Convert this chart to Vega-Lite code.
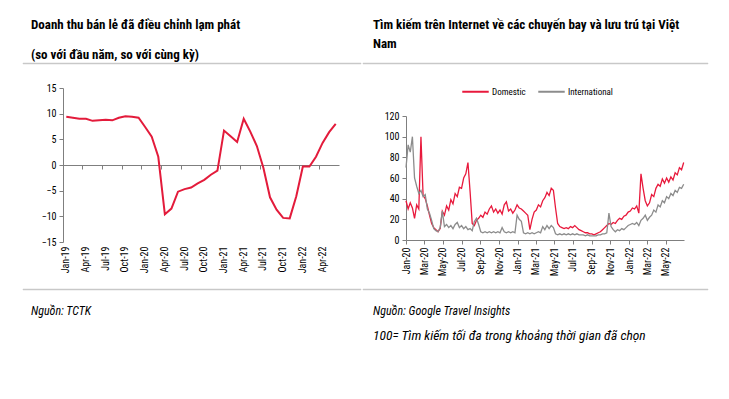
{
"$schema": "https://vega.github.io/schema/vega-lite/v6.json",
"background": "white",
"padding": {"left": 22, "top": 18, "right": 5, "bottom": 5},
"spacing": 12,
"resolve": {"scale": {"color": "independent"}, "legend": {"color": "independent"}},
"config": {
  "font": "Liberation Sans Narrow, Arial Narrow, Roboto Condensed, DejaVu Sans Condensed, Liberation Sans, sans-serif",
  "view": {"stroke": null},
  "axis": {"labelFont": "Liberation Sans Narrow, Arial Narrow, Roboto Condensed, DejaVu Sans Condensed, Liberation Sans, sans-serif", "labelFontSize": 10, "labelColor": "#000", "domain": true, "domainColor": "#7f7f7f", "domainWidth": 1, "tickColor": "#7f7f7f", "grid": false, "title": null, "labelOverlap": false},
  "legend": {"labelFont": "Liberation Sans Narrow, Arial Narrow, Roboto Condensed, DejaVu Sans Condensed, Liberation Sans, sans-serif", "labelColor": "#000"},
  "title": {"font": "Liberation Sans Narrow, Arial Narrow, Roboto Condensed, DejaVu Sans Condensed, Liberation Sans, sans-serif", "fontSize": 13, "fontWeight": "bold", "color": "#000", "anchor": "start"}
},
"datasets": {
  "monthly": [{"m":"Jan-19","v":9.4},{"m":"Feb-19","v":9.2},{"m":"Mar-19","v":9.0},{"m":"Apr-19","v":9.0},{"m":"May-19","v":8.6},{"m":"Jun-19","v":8.7},{"m":"Jul-19","v":8.8},{"m":"Aug-19","v":8.7},{"m":"Sep-19","v":9.2},{"m":"Oct-19","v":9.5},{"m":"Nov-19","v":9.4},{"m":"Dec-19","v":9.2},{"m":"Jan-20","v":7.4},{"m":"Feb-20","v":5.5},{"m":"Mar-20","v":1.6},{"m":"Apr-20","v":-9.6},{"m":"May-20","v":-8.5},{"m":"Jun-20","v":-5.2},{"m":"Jul-20","v":-4.7},{"m":"Aug-20","v":-4.4},{"m":"Sep-20","v":-3.6},{"m":"Oct-20","v":-2.9},{"m":"Nov-20","v":-1.9},{"m":"Dec-20","v":-1.1},{"m":"Jan-21","v":6.7},{"m":"Feb-21","v":5.6},{"m":"Mar-21","v":4.5},{"m":"Apr-21","v":9.0},{"m":"May-21","v":6.5},{"m":"Jun-21","v":3.7},{"m":"Jul-21","v":-0.6},{"m":"Aug-21","v":-6.3},{"m":"Sep-21","v":-8.7},{"m":"Oct-21","v":-10.3},{"m":"Nov-21","v":-10.4},{"m":"Dec-21","v":-6.1},{"m":"Jan-22","v":-0.3},{"m":"Feb-22","v":-0.3},{"m":"Mar-22","v":1.6},{"m":"Apr-22","v":4.3},{"m":"May-22","v":6.4},{"m":"Jun-22","v":8.0}],
  "search": [
{"d":"2020-01-01","Domestic":38,"International":70},
{"d":"2020-01-08","Domestic":30,"International":92},
{"d":"2020-01-15","Domestic":36,"International":85},
{"d":"2020-01-22","Domestic":31,"International":100},
{"d":"2020-01-29","Domestic":21,"International":60},
{"d":"2020-02-05","Domestic":34,"International":52},
{"d":"2020-02-12","Domestic":30,"International":45},
{"d":"2020-02-19","Domestic":100,"International":48},
{"d":"2020-02-26","Domestic":43,"International":42},
{"d":"2020-03-04","Domestic":40,"International":44},
{"d":"2020-03-11","Domestic":33,"International":30},
{"d":"2020-03-18","Domestic":24,"International":26},
{"d":"2020-03-25","Domestic":16,"International":19},
{"d":"2020-04-01","Domestic":12,"International":11},
{"d":"2020-04-08","Domestic":10,"International":9},
{"d":"2020-04-15","Domestic":8,"International":8},
{"d":"2020-04-22","Domestic":11,"International":12},
{"d":"2020-04-29","Domestic":28,"International":28},
{"d":"2020-05-06","Domestic":24,"International":13},
{"d":"2020-05-13","Domestic":33,"International":15},
{"d":"2020-05-20","Domestic":29,"International":12},
{"d":"2020-05-27","Domestic":39,"International":14},
{"d":"2020-06-03","Domestic":35,"International":11},
{"d":"2020-06-10","Domestic":45,"International":15},
{"d":"2020-06-17","Domestic":42,"International":17},
{"d":"2020-06-24","Domestic":51,"International":12},
{"d":"2020-07-01","Domestic":50,"International":14},
{"d":"2020-07-08","Domestic":60,"International":11},
{"d":"2020-07-15","Domestic":64,"International":13},
{"d":"2020-07-22","Domestic":75,"International":10},
{"d":"2020-07-29","Domestic":47,"International":11},
{"d":"2020-08-05","Domestic":16,"International":9},
{"d":"2020-08-12","Domestic":14,"International":18},
{"d":"2020-08-19","Domestic":19,"International":21},
{"d":"2020-08-26","Domestic":21,"International":15},
{"d":"2020-09-02","Domestic":24,"International":8},
{"d":"2020-09-09","Domestic":22,"International":7},
{"d":"2020-09-16","Domestic":27,"International":8},
{"d":"2020-09-23","Domestic":25,"International":7},
{"d":"2020-09-30","Domestic":30,"International":8},
{"d":"2020-10-07","Domestic":33,"International":7},
{"d":"2020-10-14","Domestic":27,"International":8},
{"d":"2020-10-21","Domestic":30,"International":7},
{"d":"2020-10-28","Domestic":26,"International":8},
{"d":"2020-11-04","Domestic":29,"International":7},
{"d":"2020-11-11","Domestic":25,"International":12},
{"d":"2020-11-18","Domestic":34,"International":8},
{"d":"2020-11-25","Domestic":37,"International":7},
{"d":"2020-12-02","Domestic":28,"International":8},
{"d":"2020-12-09","Domestic":30,"International":7},
{"d":"2020-12-16","Domestic":26,"International":8},
{"d":"2020-12-23","Domestic":29,"International":7},
{"d":"2020-12-30","Domestic":34,"International":24},
{"d":"2021-01-06","Domestic":31,"International":20},
{"d":"2021-01-13","Domestic":30,"International":18},
{"d":"2021-01-20","Domestic":28,"International":7},
{"d":"2021-01-27","Domestic":26,"International":6},
{"d":"2021-02-03","Domestic":24,"International":7},
{"d":"2021-02-10","Domestic":10,"International":6},
{"d":"2021-02-17","Domestic":20,"International":7},
{"d":"2021-02-24","Domestic":27,"International":6},
{"d":"2021-03-03","Domestic":29,"International":7},
{"d":"2021-03-10","Domestic":34,"International":8},
{"d":"2021-03-17","Domestic":32,"International":7},
{"d":"2021-03-24","Domestic":38,"International":13},
{"d":"2021-03-31","Domestic":41,"International":10},
{"d":"2021-04-07","Domestic":46,"International":14},
{"d":"2021-04-14","Domestic":43,"International":11},
{"d":"2021-04-21","Domestic":50,"International":14},
{"d":"2021-04-28","Domestic":48,"International":12},
{"d":"2021-05-05","Domestic":31,"International":6},
{"d":"2021-05-12","Domestic":16,"International":5},
{"d":"2021-05-19","Domestic":13,"International":6},
{"d":"2021-05-26","Domestic":12,"International":5},
{"d":"2021-06-02","Domestic":11,"International":6},
{"d":"2021-06-09","Domestic":12,"International":5},
{"d":"2021-06-16","Domestic":11,"International":6},
{"d":"2021-06-23","Domestic":13,"International":5},
{"d":"2021-06-30","Domestic":12,"International":6},
{"d":"2021-07-07","Domestic":14,"International":5},
{"d":"2021-07-14","Domestic":12,"International":6},
{"d":"2021-07-21","Domestic":10,"International":5},
{"d":"2021-07-28","Domestic":9,"International":5},
{"d":"2021-08-04","Domestic":8,"International":5},
{"d":"2021-08-11","Domestic":7,"International":4},
{"d":"2021-08-18","Domestic":7,"International":5},
{"d":"2021-08-25","Domestic":6,"International":4},
{"d":"2021-09-01","Domestic":6,"International":4},
{"d":"2021-09-08","Domestic":5,"International":4},
{"d":"2021-09-15","Domestic":6,"International":4},
{"d":"2021-09-22","Domestic":7,"International":5},
{"d":"2021-09-29","Domestic":8,"International":5},
{"d":"2021-10-06","Domestic":10,"International":6},
{"d":"2021-10-13","Domestic":12,"International":6},
{"d":"2021-10-20","Domestic":14,"International":7},
{"d":"2021-10-27","Domestic":16,"International":26},
{"d":"2021-11-03","Domestic":15,"International":13},
{"d":"2021-11-10","Domestic":17,"International":10},
{"d":"2021-11-17","Domestic":16,"International":8},
{"d":"2021-11-24","Domestic":19,"International":10},
{"d":"2021-12-01","Domestic":21,"International":9},
{"d":"2021-12-08","Domestic":20,"International":11},
{"d":"2021-12-15","Domestic":23,"International":10},
{"d":"2021-12-22","Domestic":24,"International":12},
{"d":"2021-12-29","Domestic":27,"International":14},
{"d":"2022-01-05","Domestic":28,"International":15},
{"d":"2022-01-12","Domestic":31,"International":16},
{"d":"2022-01-19","Domestic":30,"International":15},
{"d":"2022-01-26","Domestic":33,"International":17},
{"d":"2022-02-02","Domestic":26,"International":14},
{"d":"2022-02-09","Domestic":64,"International":19},
{"d":"2022-02-16","Domestic":50,"International":21},
{"d":"2022-02-23","Domestic":38,"International":24},
{"d":"2022-03-02","Domestic":33,"International":19},
{"d":"2022-03-09","Domestic":36,"International":22},
{"d":"2022-03-16","Domestic":44,"International":24},
{"d":"2022-03-23","Domestic":42,"International":29},
{"d":"2022-03-30","Domestic":50,"International":27},
{"d":"2022-04-06","Domestic":54,"International":34},
{"d":"2022-04-13","Domestic":52,"International":32},
{"d":"2022-04-20","Domestic":59,"International":38},
{"d":"2022-04-27","Domestic":55,"International":36},
{"d":"2022-05-04","Domestic":60,"International":42},
{"d":"2022-05-11","Domestic":56,"International":40},
{"d":"2022-05-18","Domestic":61,"International":45},
{"d":"2022-05-25","Domestic":58,"International":43},
{"d":"2022-06-01","Domestic":65,"International":48},
{"d":"2022-06-08","Domestic":63,"International":46},
{"d":"2022-06-15","Domestic":70,"International":51},
{"d":"2022-06-22","Domestic":68,"International":50},
{"d":"2022-06-29","Domestic":75,"International":54}
  ]
},
"vconcat": [
  {"spacing": 0, "hconcat": [
    {"width": 338, "height": 1, "view": {"fill": "#c8c8c8", "stroke": "#c8c8c8", "strokeWidth": 0.5},
     "title": {"text": ["Doanh thu bán lẻ đã điều chỉnh lạm phát", "(so với đầu năm, so với cùng kỳ)"], "dx": 8, "lineHeight": 30, "offset": 1},
     "data": {"values": []}, "mark": "point"},
    {"width": 345, "height": 1, "view": {"fill": "#c8c8c8", "stroke": "#c8c8c8", "strokeWidth": 0.5},
     "title": {"text": ["Tìm kiếm trên Internet về các chuyến bay và lưu trú tại Việt", "Nam"], "dx": 10, "lineHeight": 18.5, "offset": 12.5},
     "data": {"values": []}, "mark": "point"}
  ]},
  {"spacing": 0,
   "resolve": {"scale": {"color": "independent"}, "legend": {"color": "independent"}},
   "hconcat": [
    {"width": 1, "height": 1, "data": {"values": []}, "mark": "point"},
    {"width": 276, "height": 154,
     "data": {"name": "monthly"},
     "layer": [
       {"mark": {"type": "line", "color": "#e31b3b", "strokeWidth": 2},
        "encoding": {
          "x": {"field": "m", "type": "ordinal", "sort": null, "scale": {"type": "band", "paddingInner": 0, "paddingOuter": 0},
                "axis": {"orient": "bottom", "values": ["Jan-19","Apr-19","Jul-19","Oct-19","Jan-20","Apr-20","Jul-20","Oct-20","Jan-21","Apr-21","Jul-21","Oct-21","Jan-22","Apr-22"], "domain": false, "ticks": false, "labelAngle": 270, "labelPadding": 4, "bandPosition": 0.5, "labelOverlap": false}},
          "y": {"field": "v", "type": "quantitative", "scale": {"domain": [-15, 15], "nice": false},
                "axis": {"values": [-15,-10,-5,0,5,10,15], "domain": true, "tickSize": 4, "labelPadding": 3, "labelOverlap": false, "minExtent": 39, "maxExtent": 39}}
        }},
       {"mark": {"type": "point", "opacity": 0},
        "encoding": {
          "x": {"field": "m", "type": "ordinal", "sort": null,
                "axis": {"orient": "bottom", "values": ["Jan-19","Apr-19","Jul-19","Oct-19","Jan-20","Apr-20","Jul-20","Oct-20","Jan-21","Apr-21","Jul-21","Oct-21","Jan-22","Apr-22"], "labels": false, "domain": true, "ticks": true, "tickSize": 4, "bandPosition": 0, "offset": -77}},
          "y": {"datum": 0, "axis": {"values": [-15,-10,-5,0,5,10,15], "domain": true, "tickSize": 4, "labelPadding": 3, "labelOverlap": false, "minExtent": 39, "maxExtent": 39}}
        }}
     ],
     "resolve": {"axis": {"x": "independent"}}
    },
    {"width": 278, "height": 152,
     "data": {"name": "search"},
     "transform": [{"fold": ["Domestic", "International"], "as": ["s", "v"]}],
     "mark": {"type": "line", "strokeWidth": 1.3},
     "encoding": {
       "x": {"field": "d", "type": "temporal",
             "scale": {"domain": [{"year": 2020, "month": 1, "date": 1}, {"year": 2022, "month": 6, "date": 30}]},
             "axis": {"format": "%b-%y", "tickCount": {"interval": "month", "step": 2}, "labelAngle": 270, "tickSize": 4, "labelPadding": 3, "labelFlush": false, "labelOverlap": false}},
       "y": {"field": "v", "type": "quantitative", "scale": {"domain": [0, 120], "nice": false, "range": [152, 28]},
             "axis": {"values": [0,20,40,60,80,100,120], "domain": true, "tickSize": 4, "labelPadding": 3, "labelOverlap": false, "minExtent": 66, "maxExtent": 66}},
       "color": {"field": "s", "type": "nominal", "scale": {"domain": ["Domestic", "International"], "range": ["#e8193c", "#8c8c8c"]},
                 "legend": {"title": null, "orient": "none", "direction": "horizontal", "legendX": 55, "legendY": -11, "padding": 0, "symbolType": "stroke", "symbolSize": 700, "symbolStrokeWidth": 2, "labelFontSize": 9, "labelOffset": 2, "columnPadding": 8}}
     }
    }
  ]},
  {"spacing": 0, "hconcat": [
    {"width": 338, "height": 1, "view": {"fill": "#c8c8c8", "stroke": "#c8c8c8", "strokeWidth": 0.5},
     "title": {"text": "Nguồn: TCTK", "orient": "bottom", "dx": 8, "offset": 16, "fontStyle": "italic", "fontWeight": "normal", "fontSize": 12},
     "data": {"values": []}, "mark": "point"},
    {"width": 345, "height": 1, "view": {"fill": "#c8c8c8", "stroke": "#c8c8c8", "strokeWidth": 0.5},
     "title": {"text": "Nguồn: Google Travel Insights", "subtitle": "100= Tìm kiếm tối đa trong khoảng thời gian đã chọn", "orient": "bottom", "dx": 10, "offset": 16, "fontStyle": "italic", "fontWeight": "normal", "fontSize": 12, "subtitleFont": "Liberation Sans Narrow, Arial Narrow, Roboto Condensed, DejaVu Sans Condensed, Liberation Sans, sans-serif", "subtitleFontStyle": "italic", "subtitleFontSize": 13.5, "subtitleColor": "#000", "subtitlePadding": 11},
     "data": {"values": []}, "mark": "point"}
  ]}
]
}
